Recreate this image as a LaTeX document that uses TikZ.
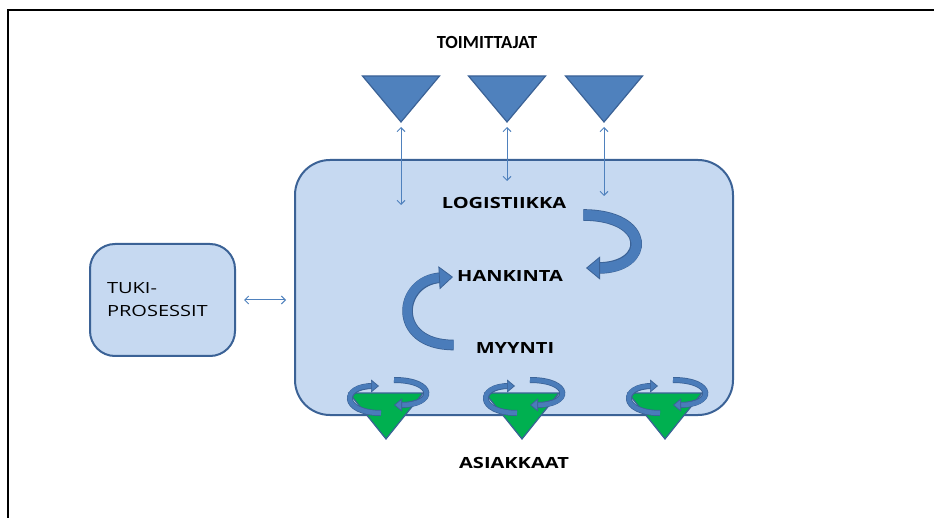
\documentclass[tikz,border=0pt]{standalone}
\usepackage{fontspec}
\newfontfamily\calfont{Carlito}
\newfontfamily\widefont[FakeStretch=1.3]{Open Sans}
\usetikzlibrary{arrows.meta, positioning}
\definecolor{boxfill}{HTML}{C6D9F1}
\definecolor{boxline}{HTML}{3B6296}
\definecolor{tribl}{HTML}{4F81BD}
\definecolor{trigr}{HTML}{00B050}
\definecolor{spinbl}{HTML}{4A7CBA}

\begin{document}
\begin{tikzpicture}
[x=1pt, y=-1pt,
every node/.style={inner sep=0pt},
procbox/.style={draw=boxline, line width=2pt, fill=boxfill, rounded corners=#1},
suptri/.style={draw=boxline, line width=1.2pt, fill=tribl, line join=miter},
custri/.style={draw=boxline, line width=1.2pt, fill=trigr, line join=miter},
link/.style={tribl, line width=1pt, {Straight Barb[length=4pt,width=8pt]}-{Straight Barb[length=4pt,width=8pt]}},
bigturn/.style={spinbl, line width=#1, preaction={draw=boxline, arrows=-, line width=#1+1.6pt, shorten >=12pt},
  -{Triangle[length=14pt,width=23pt,color=boxline,fill=spinbl,line width=0.8pt]}},
spin/.style={spinbl, line width=4.5pt, preaction={draw=boxline, arrows=-, line width=6pt, shorten >=6pt},
  -{Triangle[length=8pt,width=13pt,color=boxline,fill=spinbl,line width=0.7pt]}},
title/.style={font=\calfont\bfseries\fontsize{18.5}{20}\selectfont},
label/.style={font=\widefont\bfseries\fontsize{15.4}{18}\selectfont}
]

\useasboundingbox (0,0) rectangle (934,518);

% frame
\draw[line width=2pt] (8,518) -- (8,10) -- (934,10);

% process boxes
\node[procbox=35pt, minimum width=438pt, minimum height=255pt] (core) at (514,287.5) {};
\node[procbox=25pt, minimum width=145pt, minimum height=112pt, text width=111pt, align=left,
  font=\widefont\fontsize{15.4}{23}\selectfont] (tuki) at (162.5,300) {TUKI-\\PROSESSIT};

\draw[link] ([xshift=8pt]tuki.east) -- ([xshift=-8pt]core.west |- tuki.east);

% suppliers
\node[title] (toim) at (487,43) {TOIMITTAJAT};
\foreach \i/\x/\y in {1/401/205, 2/507/181, 3/604/196}
{
  \draw[suptri] ({\x-38.5},76) -- ({\x+38.5},76) -- (\x,122) -- cycle;
  \coordinate (sup\i) at (\x,122);
  \coordinate (in\i) at (\x,\y);
  \draw[link, shorten <=5pt] (sup\i) -- (in\i);
}

% process labels
\node[label] (logi) at (504,203) {LOGISTIIKKA};
\node[label] (hank) at (510,276) {HANKINTA};
\node[label] (myyn) at (515,348) {MYYNTI};

\draw[bigturn=10pt] ([xshift=17pt,yshift=-12pt]logi.east) .. controls +(68,0) and +(65,0) .. ([xshift=23pt,yshift=8pt]hank.east);
\draw[bigturn=9pt] ([xshift=-22pt,yshift=3pt]myyn.west) .. controls +(-63,0) and +(-55,3) .. ([xshift=-4pt,yshift=-1pt]hank.west);

% customers
\foreach \i/\x in {1/386, 2/522, 3/665}
{
  \draw[custri] ({\x-37},393) -- ({\x+37},393) -- (\x,439) -- cycle;
  \draw[spin] ({\x-5},413) .. controls ({\x-45},413) and ({\x-45},386) .. ({\x-7},386);
  \draw[spin] ({\x+8},380) .. controls ({\x+50},380) and ({\x+50},405) .. ({\x+8},405);
}
\node[label] (asia) at (514,463) {ASIAKKAAT};

\end{tikzpicture}
\end{document}
